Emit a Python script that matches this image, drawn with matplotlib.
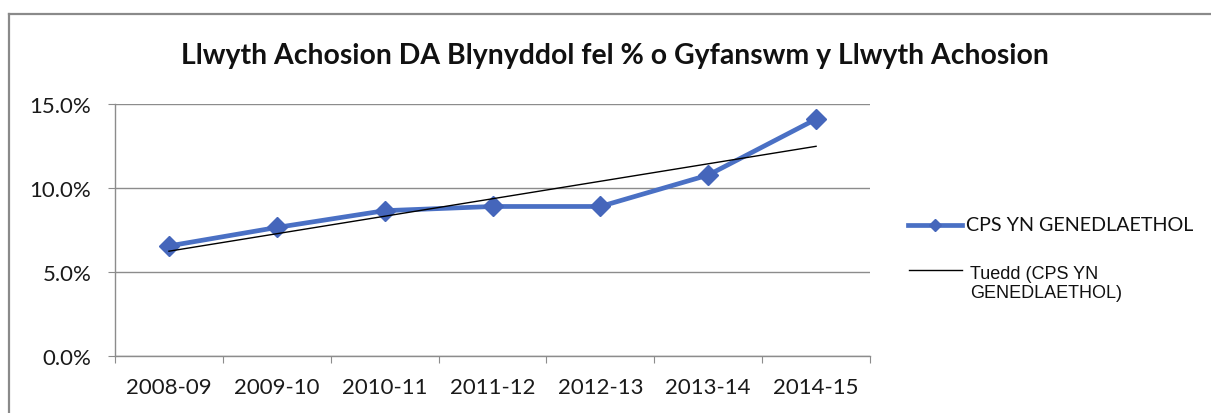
import numpy as np
import matplotlib
matplotlib.use("Agg")
import matplotlib.pyplot as plt
from matplotlib.lines import Line2D
from matplotlib.ticker import FixedLocator, PercentFormatter

# ---- data ----
years = ['2008-09', '2009-10', '2010-11', '2011-12', '2012-13', '2013-14', '2014-15']
cps_values = [6.55, 7.65, 8.65, 8.90, 8.90, 10.77, 14.10]  # percent
y_ticks = [0.0, 5.0, 10.0, 15.0]
title = 'Llwyth Achosion DA Blynyddol fel % o Gyfanswm y Llwyth Achosion'
series_label = 'CPS YN GENEDLAETHOL'
trend_label = 'Tuedd (CPS YN\nGENEDLAETHOL)'

W, H = 1211, 414
fig = plt.figure(figsize=(W / 100, H / 100), dpi=100)
fig.patch.set_facecolor('white')

# chart border (top and left)
fig.add_artist(Line2D([9 / W, 9 / W], [0, 1 - 15 / H], transform=fig.transFigure,
                      color='#8a8a8a', lw=1.6))
fig.add_artist(Line2D([9 / W, 1], [1 - 15 / H, 1 - 15 / H], transform=fig.transFigure,
                      color='#8a8a8a', lw=1.6))

left, right, top, bottom = 115, 870, 105, 357
ax = fig.add_axes([left / W, 1 - bottom / H, (right - left) / W, (bottom - top) / H])

x = np.arange(len(years))
blue = '#4a70c4'
ax.plot(x, cps_values, color=blue, lw=3.4, marker='D', markersize=10,
        markerfacecolor='#4566bb', markeredgecolor='#4566bb', zorder=3)

coef = np.polyfit(x, cps_values, 1)
trend = np.polyval(coef, x)
ax.plot([x[0], x[-1]], [trend[0], trend[-1]], color='black', lw=1.0, zorder=4)

ax.set_xlim(-0.5, len(years) - 0.5)
ax.set_ylim(0, 15)

grid_c = '#8c8c8c'
ax.set_yticks(y_ticks)
ax.yaxis.set_major_formatter(PercentFormatter(decimals=1))
ax.grid(axis='y', color=grid_c, lw=1.0)
ax.set_axisbelow(True)

ax.xaxis.set_major_locator(FixedLocator(np.arange(-0.5, len(years), 1.0)))
ax.xaxis.set_major_formatter(plt.NullFormatter())
ax.xaxis.set_minor_locator(FixedLocator(x))
ax.set_xticklabels(years, minor=True)

for s in ['top', 'right']:
    ax.spines[s].set_visible(False)
for s in ['left', 'bottom']:
    ax.spines[s].set_color(grid_c)
    ax.spines[s].set_linewidth(1.0)

fam = 'Lato'
ax.tick_params(axis='x', which='major', length=5, color=grid_c, direction='out')
ax.tick_params(axis='x', which='minor', length=0, pad=15, labelsize=16, labelcolor='#1a1a1a')
ax.tick_params(axis='y', which='major', length=5, color=grid_c, pad=12, labelsize=16,
               labelcolor='#1a1a1a')
for lab in ax.get_xticklabels(minor=True) + ax.get_yticklabels():
    lab.set_fontfamily(fam)

fig.text(615 / W, 1 - 56 / H, title, ha='center', va='center', fontsize=20.4,
         fontweight='bold', family=fam, color='#111111')

# legend
fig.add_artist(Line2D([908 / W, 962 / W], [1 - 226 / H] * 2, transform=fig.transFigure,
                      color=blue, lw=3.4))
fig.add_artist(Line2D([935 / W], [1 - 226 / H], transform=fig.transFigure,
                      marker='D', markersize=6, color='#4566bb', lw=0))
fig.text(966 / W, 1 - 226 / H, series_label, ha='left', va='center', fontsize=14.2,
         family=fam, color='#111111')
fig.add_artist(Line2D([909 / W, 962 / W], [1 - 271 / H] * 2, transform=fig.transFigure,
                      color='black', lw=1.0))
fig.text(970 / W, 1 - 284 / H, trend_label, ha='left', va='center', fontsize=13,
         family='Liberation Sans', color='#111111', linespacing=1.15)

fig.savefig('out.png', dpi=100, facecolor='white')
